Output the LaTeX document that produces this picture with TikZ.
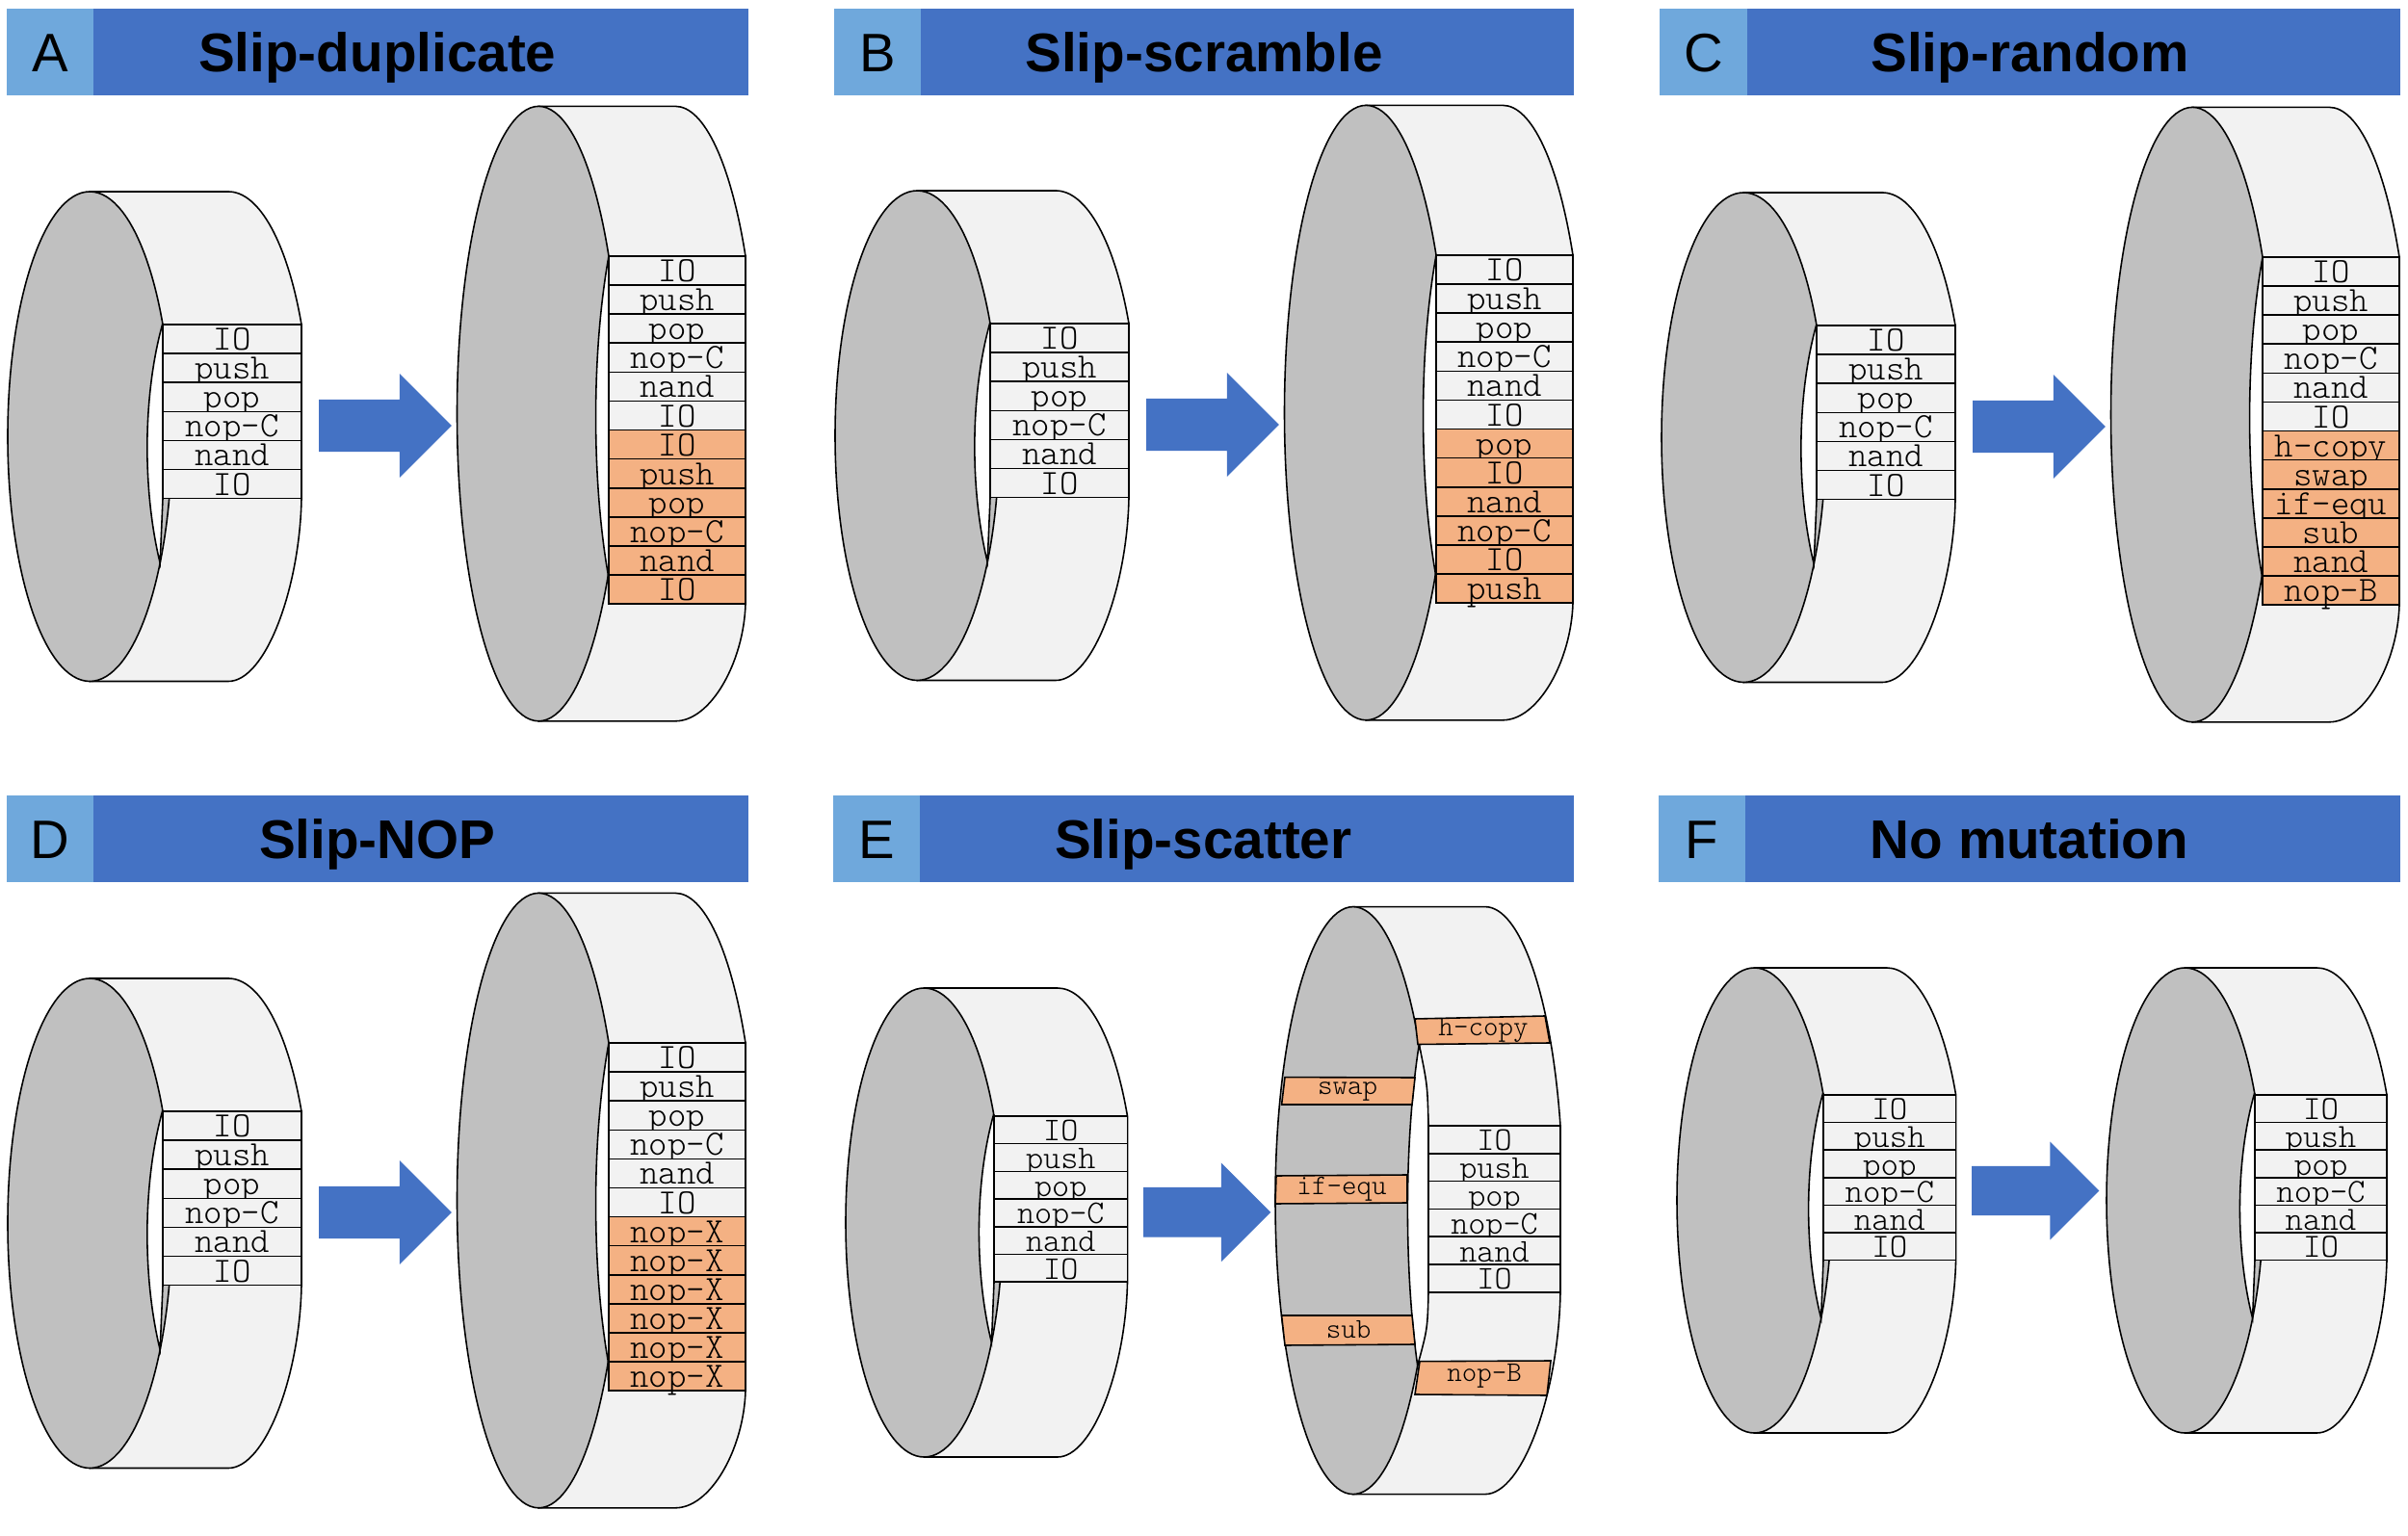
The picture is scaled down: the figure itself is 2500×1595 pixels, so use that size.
\documentclass[tikz,border=0pt]{standalone}
\usepackage{fontspec}
\setmainfont{Liberation Sans}
\setmonofont{Latin Modern Mono Light}
\usetikzlibrary{shapes.arrows}
\definecolor{barblue}{HTML}{4472C4}
\definecolor{tagblue}{HTML}{6FA8DC}
\definecolor{hitorange}{HTML}{F4B183}
\definecolor{rimgrey}{HTML}{C0C0C0}
\definecolor{bandgrey}{HTML}{F2F2F2}
\tikzset{
  outline/.style={draw=black,line width=.45pt},
  band/.style={outline,fill=bandgrey},
  rim/.style={outline,fill=rimgrey},
  hole/.style={outline,fill=white},
  rowplain/.style={fill=bandgrey},
  rowhit/.style={fill=hitorange},
  rowcell/.style={outline,inner sep=0pt,text height=.23cm,text depth=0pt},
  hitbar/.style={outline,fill=hitorange},
  barlabel/.style={inner sep=0pt,font=\fontsize{8.4}{10}\ttfamily},
  headbar/.style={fill=barblue,inner sep=0pt,minimum height=.895cm,text height=.417cm,text depth=0pt,font=\fontsize{16.1}{19}\selectfont\bfseries},
  headtag/.style={fill=tagblue,inner sep=0pt,minimum height=.895cm,text height=.417cm,text depth=0pt,font=\fontsize{16}{19}\selectfont},
  blockarrow/.style={single arrow,draw=barblue,fill=barblue,inner sep=0pt,single arrow tip angle=90,anchor=tail,
    text height=#1,text depth=0pt,minimum width=2*#1,single arrow head extend=.5*#1},
}
% #1 left, #2 top, #3 right, #4 bottom, #5 rows left, #6 rows top, #7 rows bottom, #8 #9 hole tips
\newcommand{\ringshape}[9]{
  \pgfmathsetmacro{\cy}{(#2+#4)/2}
  \pgfmathsetmacro{\ry}{(#4-#2)/2}
  \pgfmathsetmacro{\rs}{sqrt(1-((\cy-#6)/\ry)^2)}
  \pgfmathsetmacro{\rx}{(#5-#1)/(1+\rs)}
  \pgfmathsetmacro{\cx}{#1+\rx}
  \pgfmathsetmacro{\bx}{#3-\rx*\rs}
  \pgfmathsetmacro{\ea}{-asin((\cy-#6)/\ry)}
  \pgfmathsetmacro{\ex}{\cx+.7*\rx}
  \pgfmathsetmacro{\ta}{\cx+\rx*sqrt(1-((\cy-#8)/\ry)^2)}
  \pgfmathsetmacro{\tb}{\cx+\rx*sqrt(1-((#9-\cy)/\ry)^2)}
  \pgfmathsetmacro{\hc}{(\ex-(\ta+\tb)/8)*4/3}
  \draw[band] (\cx,#2) -- (\bx,#2) arc[start angle=-90,end angle=\ea,x radius=\rx,y radius=\ry] -- (#3,#7)
    .. controls (#3-2,{(#7+#4)/2}) and ({(\bx+#3)/2},#4) .. (\bx,#4) -- (\cx,#4) -- cycle;
  \draw[rim] (\cx,\cy) ellipse [x radius=\rx,y radius=\ry];
  \draw[hole] (\ta,#8) .. controls (\hc,{#8+.3*(#9-#8)}) and (\hc,{#8+.7*(#9-#8)}) .. (\tb,#9)
    .. controls (#5-1,{(#9+#7)/2}) .. (#5,#7) -- (#5,#6) .. controls (#5-1,{(#8+#6)/2}) .. (\ta,#8);
}
% #1 name, #2 left, #3 right, #4 top, #5 row height, #6 font size, #7 labels
\newcommand{\ringrows}[7]{
  \pgfmathsetmacro{\rw}{(#3-#2)*.01}
  \pgfmathsetmacro{\rh}{#5*.01}
  \edef\rowlist{#7}
  \foreach \lab/\sty [count=\i] in \rowlist
    \node[rowcell,\sty,minimum width=\rw cm,minimum height=\rh cm,font=\fontsize{#6}{#6}\ttfamily]
      (#1-\i) at ({(#2+#3)/2},{#4+(\i-.5)*#5}) {\lab};
}
% #1 name, #2 x left, #3 x of tag end, #4 x right, #5 y top, #6 title
\newcommand{\headline}[6]{
  \pgfmathsetmacro{\bw}{(#4-#2)*.01}
  \pgfmathsetmacro{\tw}{(#3-#2)*.01}
  \node[headbar,minimum width=\bw cm] (#1-bar) at ({(#2+#4)/2},#5+44.75) {#6};
  \node[headtag,minimum width=\tw cm] (#1-tag) at ({(#2+#3)/2},#5+44.75) {#1};
}
\newcommand{\startrows}{IO/rowplain,push/rowplain,pop/rowplain,nop-C/rowplain,nand/rowplain,IO/rowplain}
% #1 name, #2 extra rows
\newcommand{\slippanel}[2]{
  \ringshape{8}{199}{313}{707.5}{169}{337}{518}{336}{584.6}
  \ringrows{#1-s}{169}{313}{337}{30.1}{10.5}{\startrows}
  \node[blockarrow=.515cm,minimum height=1.36cm] (#1-arrow) at (331,442) {};
  \ringshape{474.5}{110.4}{774}{748.8}{632}{266}{627.4}{266}{597}
  \ringrows{#1-b}{632}{774}{266}{30.1}{10.5}{\startrows,#2}
}
\begin{document}
\begin{tikzpicture}[x=.01cm,y=-.01cm]
\useasboundingbox (0,0) rectangle (2500,1595);
% top row
\headline{A}{7}{97}{776.5}{9}{Slip-duplicate}
\headline{B}{866}{956}{1634}{9}{Slip-scramble}
\headline{C}{1723}{1814}{2492}{9}{Slip-random}
\slippanel{A}{IO/rowhit,push/rowhit,pop/rowhit,nop-C/rowhit,nand/rowhit,IO/rowhit}
\begin{scope}[shift={(859,-1)}]
\slippanel{B}{pop/rowhit,IO/rowhit,nand/rowhit,nop-C/rowhit,IO/rowhit,push/rowhit}
\end{scope}
\begin{scope}[shift={(1717,1)}]
\slippanel{C}{h-copy/rowhit,swap/rowhit,if-equ/rowhit,sub/rowhit,nand/rowhit,nop-B/rowhit}
\end{scope}
% bottom row
\headline{D}{7}{97}{776.5}{826}{Slip-NOP}
\begin{scope}[shift={(0,817)}]
\slippanel{D}{nop-X/rowhit,nop-X/rowhit,nop-X/rowhit,nop-X/rowhit,nop-X/rowhit,nop-X/rowhit}
\end{scope}
%%%%
\headline{E}{864.6}{955}{1634}{826}{Slip-scatter}
\ringshape{878}{1026}{1170.5}{1513}{1032}{1159}{1331.6}{1157}{1394}
\ringrows{E-s}{1032}{1170.5}{1159}{28.7}{9.8}{\startrows}
\node[blockarrow=.49cm,minimum height=1.305cm] (E-arrow) at (1187,1258.8) {};
\ringshape{1324}{941.6}{1620}{1551.6}{1483}{1169}{1342}{1084.5}{1418}
\ringrows{E-b}{1483}{1620}{1169}{28.8}{9.8}{\startrows}
\draw[hitbar] (1469,1058) -- (1604,1055) -- (1609,1083) -- (1472,1084.5) -- cycle;
\draw[hitbar] (1334,1118.6) -- (1469,1119) -- (1466,1147) -- (1330.6,1147) -- cycle;
\draw[hitbar] (1325,1221) -- (1461,1220) -- (1461,1249) -- (1324,1250) -- cycle;
\draw[hitbar] (1330.6,1366) -- (1466,1366) -- (1469,1396) -- (1334,1397) -- cycle;
\draw[hitbar] (1474,1413.7) -- (1610,1413) -- (1606,1449) -- (1469,1448) -- cycle;
\node[barlabel] (E-hcopy) at (1540,1070) {h-copy};
\node[barlabel] (E-swap) at (1399,1133) {swap};
\node[barlabel] (E-ifequ) at (1393,1235) {if-equ};
\node[barlabel] (E-sub) at (1400,1381) {sub};
\node[barlabel] (E-nopb) at (1541,1429) {nop-B};
%%%%
\headline{F}{1722}{1812}{2492}{826}{No mutation}
\ringshape{1741}{1005}{2030.6}{1488}{1893}{1137}{1308}{1135}{1369}
\ringrows{F-s}{1893}{2030.6}{1137}{28.6}{10}{\startrows}
\node[blockarrow=.485cm,minimum height=1.306cm] (F-arrow) at (2047,1236.5) {};
\ringshape{2187}{1005}{2478}{1488}{2341}{1137}{1308}{1135}{1369}
\ringrows{F-b}{2341}{2478}{1137}{28.6}{10}{\startrows}
\end{tikzpicture}
\end{document}
